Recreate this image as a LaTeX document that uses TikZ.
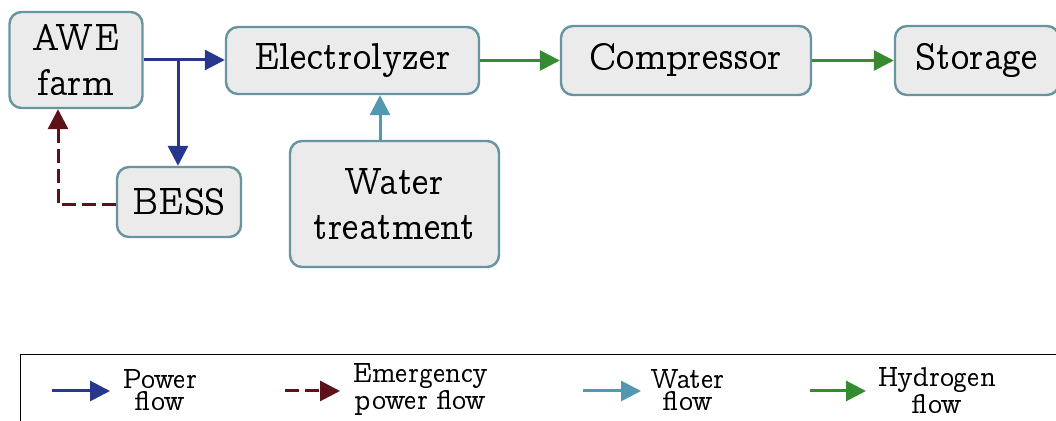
\documentclass[tikz,border=0pt]{standalone}
\usetikzlibrary{arrows.meta}
\definecolor{pwr}{RGB}{38,55,140}
\definecolor{emg}{RGB}{92,18,24}
\definecolor{wat}{RGB}{82,152,176}
\definecolor{hyd}{RGB}{53,140,48}
\definecolor{boxdraw}{RGB}{104,148,160}
\definecolor{boxfill}{RGB}{235,235,235}
\font\bxconc=ccr10 at 18.8pt
\font\lgconc=ccr10 at 13.9pt
\tikzset{
  blk/.style={draw=boxdraw, fill=boxfill, line width=1.2pt, rounded corners=6pt,
    inner sep=0pt, align=center, font=\fontsize{18.8}{22.5}\selectfont\bxconc},
  flw/.style={line width=1.5pt, -{Triangle[length=10pt,width=10pt]}},
  pflow/.style={flw, draw=pwr},
  eflow/.style={flw, draw=emg, dash pattern=on 7pt off 3pt},
  wflow/.style={flw, draw=wat},
  hflow/.style={flw, draw=hyd},
  legtxt/.style={align=center, inner sep=0pt, font=\fontsize{13.9}{11.4}\selectfont\lgconc},
}
\begin{document}
\begin{tikzpicture}[x=0.5pt,y=-0.5pt]
\clip (0,0) rectangle (1056,421);
\useasboundingbox (0,0) rectangle (1056,421);
% blocks
\node[blk, minimum width=66.5pt, minimum height=48pt] (awe) at (76,60) {AWE\\farm};
\node[blk, minimum width=126.5pt, minimum height=33.5pt] (ely) at (352.5,60.5) {Electrolyzer};
\node[blk, minimum width=125pt, minimum height=34.5pt] (cmp) at (686,60.5) {Compressor};
\node[blk, minimum width=82pt, minimum height=34.5pt] (sto) at (977,60.5) {Storage};
\node[blk, minimum width=62pt, minimum height=35pt] (bess) at (179,202) {BESS};
\node[blk, minimum width=104.5pt, minimum height=63pt] (wt) at (394.5,204) {Water\\treatment};
% connectors
\coordinate (br) at (178,60);
\draw[pflow] (awe.east |- br) -- (ely.west |- br);
\draw[pflow] (br) -- (br |- bess.north);
\coordinate (wx) at (380,0);
\draw[wflow] (wx |- wt.north) -- (wx |- ely.south);
\coordinate (ex) at (58,205);
\draw[eflow] (bess.west |- ex) -- (ex) -- (ex |- awe.south);
\draw[hflow] (ely.east) -- (cmp.west);
\draw[hflow] (cmp.east) -- (sto.west);
% legend
\node[draw=black, line width=0.6pt, minimum width=530pt, minimum height=60pt, inner sep=0pt, anchor=north west] (leg) at (20,354) {};
\coordinate (l1a) at (52,391); \coordinate (l1b) at (110,391);
\coordinate (l2a) at (285,391); \coordinate (l2b) at (340,391);
\coordinate (l3a) at (583,391); \coordinate (l3b) at (641,391);
\coordinate (l4a) at (810,391); \coordinate (l4b) at (866,391);
\draw[pflow] (l1a) -- (l1b);
\draw[eflow] (l2a) -- (l2b);
\draw[wflow] (l3a) -- (l3b);
\draw[hflow] (l4a) -- (l4b);
\node[legtxt] (t1) at (160,390) {Power\\flow};
\node[legtxt] (t2) at (421,389) {Emergency\\power flow};
\node[legtxt] (t3) at (688,390) {Water\\flow};
\node[legtxt] (t4) at (937,390) {Hydrogen\\flow};
\end{tikzpicture}
\end{document}
